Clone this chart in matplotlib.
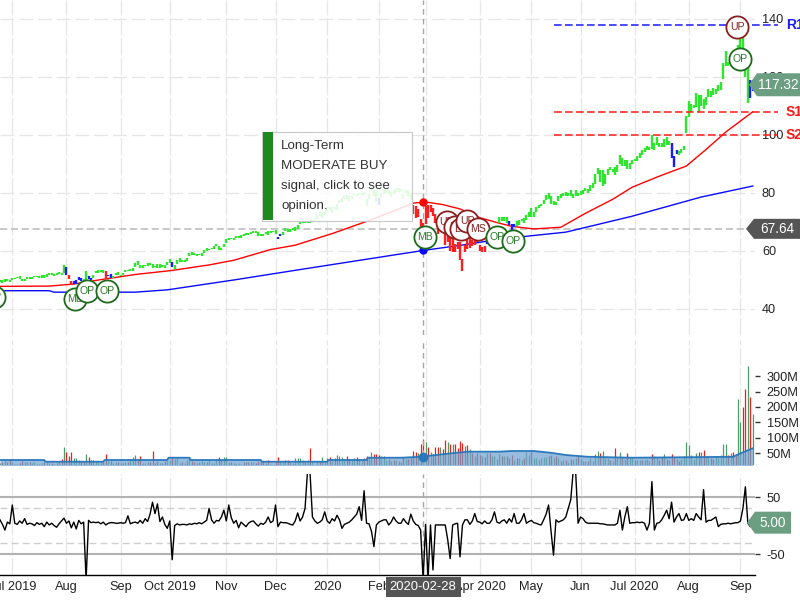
import matplotlib
matplotlib.use("Agg")
import matplotlib.pyplot as plt
import matplotlib.transforms as mtransforms
from matplotlib.patches import Polygon, Rectangle
import numpy as np

plt.rcParams['font.family'] = ['Liberation Sans', 'DejaVu Sans']

# ---------------- data ----------------
month_labels = ["Jul 2019", "Aug", "Sep", "Oct 2019", "Nov", "Dec", "2020", "Feb", "Mar",
                "Apr 2020", "May", "Jun", "Jul 2020", "Aug", "Sep"]
month_start_idx = [5, 27, 49, 69, 92, 112, 133, 154, 173, 195, 216, 236, 258, 280, 301]

close = [
    49.65, 49.32, 49.98, 49.94, 49.48,
    50.39, 50.68, 51.10, 51.06, 50.01, 50.31, 50.81, 50.44, 50.83, 51.30, 51.13, 50.84, 51.42, 50.65, 51.81, 52.21, 52.17, 51.76, 51.94, 52.42, 52.20, 53.26,
    52.11, 51.01, 48.33, 49.25, 49.76, 50.86, 50.25, 50.12, 52.24, 50.69, 50.44, 51.63, 52.59, 52.59, 53.16, 53.12, 50.66, 51.62, 51.04, 51.38, 52.25, 52.19,
    51.42, 52.30, 53.32, 53.31, 53.54, 54.17, 55.90, 55.77, 54.69, 54.97, 55.17, 55.69, 55.24, 54.43, 54.68, 54.42, 55.26, 54.97, 54.71, 55.99,
    56.15, 54.74, 55.21, 56.75, 56.76, 56.10, 56.76, 57.52, 59.05, 58.97, 58.83, 58.59, 58.82, 59.10, 60.13, 59.99, 60.79, 60.90, 61.65, 62.26, 60.82, 60.81, 62.19,
    63.96, 64.38, 64.28, 64.31, 64.86, 65.04, 65.55, 65.49, 66.12, 65.66, 66.44, 66.78, 66.57, 65.80, 65.50, 65.45, 66.59, 66.07, 66.96, 66.81,
    66.04, 64.86, 65.43, 66.39, 67.68, 66.73, 67.12, 67.69, 67.86, 68.79, 69.96, 70.10, 69.93, 70.01, 69.86, 71.00, 71.07, 72.48, 72.45, 72.88, 73.41,
    75.09, 74.36, 74.95, 74.60, 75.80, 77.41, 77.58, 79.24, 78.17, 77.83, 78.81, 79.68, 79.14, 79.43, 79.81, 79.58, 77.24, 79.42, 81.08, 80.97, 77.38,
    77.17, 79.71, 80.36, 81.30, 80.01, 80.39, 79.90, 81.80, 81.22, 81.24, 79.75, 80.90, 80.07, 78.26, 74.54, 72.02, 73.16, 68.38, 68.34,
    74.70, 72.33, 75.68, 73.23, 72.26, 66.54, 71.33, 68.86, 62.06, 69.49, 60.55, 63.22, 61.67, 61.19, 57.31, 56.09, 61.72, 61.38, 64.61, 61.94, 63.70, 63.57,
    60.23, 61.23, 60.35, 65.62, 64.86, 66.52, 67.00, 68.31, 71.76, 71.11, 71.67, 70.70, 69.23, 67.09, 69.03, 68.76, 70.74, 70.79, 69.64, 71.93, 73.45,
    72.27, 73.29, 74.39, 75.16, 75.93, 77.53, 78.75, 77.85, 76.91, 77.39, 76.93, 78.74, 78.29, 79.81, 79.21, 79.72, 79.18, 79.53, 79.56, 79.49,
    80.46, 80.83, 81.28, 80.58, 82.88, 83.36, 85.99, 88.21, 83.97, 84.70, 85.75, 88.02, 87.90, 87.93, 87.43, 89.72, 91.63, 90.01, 91.21, 88.41, 90.45, 91.20,
    91.03, 91.03, 93.46, 93.17, 95.34, 95.75, 95.92, 95.48, 97.06, 97.72, 96.52, 96.33, 98.36, 97.00, 97.27, 92.85, 92.61, 94.81, 93.25, 95.04, 96.19, 106.26,
    108.94, 109.67, 110.06, 113.90, 111.11, 112.73, 109.38, 113.01, 115.01, 114.91, 114.61, 115.56, 115.71, 118.28, 124.37, 125.86, 124.83, 126.52, 125.01, 124.81, 129.04,
    134.18, 131.40, 120.88, 120.96, 112.82, 117.32,
]

high = [
    50.0, 50.0, 50.3, 50.4, 50.0,
    50.6, 50.8, 51.1, 51.3, 50.2, 50.4, 50.9, 50.9, 51.0, 51.5, 51.5, 51.3, 51.6, 51.6, 51.9, 52.3, 52.3, 52.2, 52.4, 52.7, 52.5, 55.3,
    54.5, 51.6, 49.7, 49.6, 49.9, 50.9, 50.7, 50.5, 53.0, 51.5, 50.7, 51.8, 53.0, 53.3, 53.4, 53.6, 53.0, 51.8, 52.1, 51.4, 52.3, 52.6,
    51.7, 52.4, 53.4, 53.6, 53.8, 54.2, 55.9, 56.6, 55.2, 55.0, 55.2, 55.7, 55.9, 55.4, 54.9, 55.6, 55.4, 55.2, 55.2, 56.1,
    57.1, 56.1, 55.2, 56.9, 57.5, 57.0, 56.9, 57.6, 59.4, 59.5, 59.4, 59.0, 59.0, 59.4, 60.2, 61.2, 60.8, 61.0, 61.7, 62.3, 61.7, 61.2, 62.3,
    64.0, 64.5, 64.5, 64.4, 65.1, 65.1, 65.6, 65.8, 66.2, 66.2, 66.5, 66.9, 67.0, 66.5, 66.0, 65.8, 66.6, 66.8, 67.0, 67.0,
    67.3, 64.9, 66.0, 66.5, 67.8, 67.7, 67.5, 67.8, 68.1, 68.8, 70.2, 70.4, 70.5, 70.3, 70.7, 71.1, 71.2, 72.5, 73.5, 73.2, 73.5,
    75.2, 75.1, 75.0, 75.2, 76.1, 77.6, 78.2, 79.3, 79.4, 78.9, 78.9, 80.0, 79.8, 80.0, 79.9, 80.4, 77.9, 79.6, 81.9, 81.0, 80.7,
    78.4, 79.9, 81.2, 81.3, 81.2, 80.4, 80.9, 81.8, 81.8, 81.5, 79.8, 81.2, 81.2, 80.1, 76.0, 75.6, 74.5, 71.0, 69.6,
    75.4, 76.0, 75.8, 74.9, 72.7, 69.5, 71.6, 70.3, 67.5, 69.6, 64.8, 64.4, 62.5, 63.2, 63.0, 57.1, 61.9, 64.6, 64.7, 63.9, 63.9, 65.6,
    62.2, 61.3, 61.6, 65.8, 67.9, 66.8, 67.5, 68.4, 71.8, 71.6, 71.8, 71.7, 70.4, 69.3, 69.3, 70.4, 70.8, 71.1, 71.5, 72.4, 73.6,
    74.7, 73.4, 75.3, 75.8, 76.3, 77.6, 79.3, 79.9, 78.9, 77.4, 77.0, 79.1, 79.6, 79.9, 80.2, 79.9, 81.1, 79.7, 80.9, 80.0,
    80.6, 80.9, 81.6, 81.4, 82.9, 83.4, 86.4, 88.7, 87.8, 87.8, 86.4, 88.3, 88.8, 88.4, 89.1, 89.8, 93.1, 92.2, 91.3, 91.3, 90.5, 91.5,
    91.8, 92.6, 93.9, 94.7, 95.4, 96.3, 96.0, 99.9, 97.3, 99.2, 97.4, 97.1, 98.5, 99.2, 97.9, 97.1, 92.9, 94.9, 94.5, 95.2, 96.3, 106.4,
    111.6, 110.8, 110.4, 114.4, 113.7, 113.8, 112.5, 113.2, 116.0, 115.0, 116.1, 116.0, 117.2, 118.4, 124.9, 128.8, 125.2, 127.0, 127.5, 126.4, 131.0,
    134.8, 138.0, 129.0, 123.7, 119.0, 119.1,
]

low = [
    49.4, 48.9, 49.3, 49.6, 49.3,
    50.0, 50.2, 50.6, 50.4, 49.7, 49.6, 50.4, 50.2, 50.4, 50.9, 50.9, 50.8, 50.6, 50.6, 51.2, 51.8, 51.7, 51.5, 51.8, 52.1, 51.8, 52.3,
    51.6, 50.4, 48.1, 48.5, 48.5, 50.0, 49.7, 49.8, 50.0, 50.3, 50.0, 50.8, 52.3, 52.3, 52.9, 52.5, 50.5, 51.3, 50.7, 50.6, 51.8, 51.8,
    51.3, 51.8, 52.8, 53.1, 53.1, 53.1, 54.4, 55.0, 54.3, 54.3, 54.8, 54.9, 55.1, 54.3, 54.4, 54.2, 54.2, 54.5, 54.3, 55.0,
    55.9, 54.5, 53.8, 55.4, 56.1, 56.1, 56.3, 56.6, 58.1, 58.6, 58.5, 58.4, 58.6, 58.3, 59.3, 59.9, 60.3, 60.6, 60.8, 61.7, 60.3, 60.3, 61.3,
    62.6, 63.8, 64.1, 63.8, 64.5, 64.4, 64.6, 65.2, 65.4, 65.5, 65.9, 66.3, 66.3, 65.1, 65.2, 65.1, 65.8, 65.6, 66.3, 66.5,
    65.8, 64.1, 65.3, 65.6, 66.8, 66.6, 66.5, 67.2, 66.8, 67.5, 69.3, 69.7, 69.8, 69.7, 69.6, 70.1, 70.7, 71.2, 72.0, 71.3, 72.4,
    73.8, 74.1, 73.2, 74.4, 74.3, 76.6, 76.9, 77.8, 78.0, 77.4, 78.1, 79.3, 78.9, 79.3, 78.9, 79.4, 75.6, 77.8, 80.7, 79.1, 77.0,
    75.8, 78.2, 79.5, 80.1, 79.7, 78.5, 79.8, 80.5, 80.5, 80.8, 78.0, 80.0, 79.0, 77.6, 72.6, 71.5, 71.6, 68.3, 64.1,
    69.4, 71.4, 73.3, 72.2, 69.5, 65.7, 67.9, 67.4, 62.0, 63.2, 60.0, 59.6, 59.6, 60.7, 57.0, 53.2, 59.7, 60.7, 61.1, 61.6, 62.0, 63.0,
    60.0, 59.7, 59.7, 62.3, 64.8, 65.1, 66.4, 66.6, 69.7, 70.3, 70.3, 69.6, 69.1, 66.4, 68.1, 68.6, 69.1, 70.4, 69.6, 70.8, 71.6,
    71.6, 71.6, 73.6, 74.7, 75.4, 76.1, 77.6, 77.8, 76.3, 75.8, 75.8, 77.3, 78.2, 79.0, 79.0, 78.8, 79.1, 78.3, 79.1, 79.1,
    79.3, 79.7, 80.6, 80.0, 80.8, 81.8, 83.2, 86.5, 83.9, 82.3, 83.2, 86.2, 87.8, 87.3, 86.2, 87.3, 90.0, 89.4, 89.4, 88.3, 88.3, 90.0,
    90.9, 90.9, 91.9, 93.1, 94.0, 94.7, 94.7, 95.3, 94.7, 96.5, 95.9, 95.8, 95.8, 96.6, 96.6, 92.0, 89.1, 93.5, 93.2, 93.7, 94.7, 100.8,
    106.3, 107.9, 109.2, 109.8, 107.9, 110.0, 109.1, 110.3, 113.0, 113.0, 113.9, 114.2, 115.3, 115.6, 119.3, 123.9, 123.9, 124.6, 123.8, 123.9, 126.0,
    126.0, 126.0, 120.0, 110.9, 112.7, 115.3,
]

# trend colour of each price bar, as runs of (state, number of bars)
trend_runs = [("g", 27), ("b", 1), ("r", 2), ("b", 4), ("g", 2), ("b", 2), ("g", 5), ("r", 1),
              ("b", 2), ("g", 24), ("b", 1), ("g", 42), ("b", 2), ("g", 39), ("b", 1), ("g", 13),
              ("r", 30), ("b", 4), ("g", 5), ("b", 3), ("g", 63), ("b", 3), ("g", 29), ("b", 2)]

volume_m = [
    18, 21, 31, 20, 31,
    22, 15, 14, 18, 25, 20, 21, 20, 18, 20, 16, 16, 19, 21, 22, 19, 18, 16, 22, 25, 30, 70,
    55, 40, 52, 35, 33, 27, 23, 22, 47, 36, 27, 27, 24, 22, 20, 22, 46, 26, 25, 17, 20, 21,
    18, 17, 21, 20, 28, 38, 44, 32, 39, 17, 19, 21, 21, 57, 18, 25, 19, 17, 25, 25,
    28, 34, 30, 33, 19, 21, 19, 27, 36, 24, 21, 19, 20, 26, 20, 20, 30, 18, 18, 29, 37, 29, 38,
    37, 20, 22, 18, 17, 18, 16, 20, 20, 22, 20, 21, 19, 25, 23, 23, 19, 27, 16, 11,
    24, 37, 25, 20, 29, 29, 22, 19, 35, 33, 33, 28, 25, 29, 66, 24, 12, 23, 24, 36, 25,
    34, 37, 30, 33, 43, 41, 36, 31, 41, 32, 27, 35, 37, 30, 28, 34, 41, 36, 53, 48, 48,
    43, 42, 39, 27, 30, 26, 27, 29, 25, 20, 38, 30, 30, 34, 58, 55, 50, 81, 96,
    86, 71, 54, 48, 70, 71, 71, 64, 94, 86, 80, 80, 81, 67, 90, 84, 72, 75, 63, 51, 42, 49,
    44, 41, 36, 50, 50, 42, 40, 32, 48, 40, 40, 42, 33, 45, 29, 34, 33, 29, 34, 53, 45,
    56, 33, 35, 28, 33, 38, 36, 40, 45, 35, 41, 33, 26, 28, 29, 20, 31, 28, 33, 39,
    32, 26, 26, 26, 35, 24, 46, 56, 50, 57, 34, 33, 28, 26, 66, 33, 53, 36, 31, 51, 33, 35,
    27, 29, 29, 28, 29, 31, 23, 46, 41, 38, 27, 38, 46, 32, 27, 48, 34, 30, 26, 30, 39, 86,
    75, 43, 30, 50, 53, 52, 60, 40, 42, 34, 30, 40, 33, 43, 78, 78, 44, 50, 55, 47, 225,
    151, 200, 257, 332, 231, 176,
]

osc = [
    10, 2, -8, 6, 3,
    36, 4, 2, 8, 4, 12, 2, 4, 3, 0, 5, 2, 4, -2, 6, 1, 4, 0, -3, 3, 8, 13,
    4, 8, -4, 6, -6, 9, 3, 6, -95, 9, 5, 6, 5, 6, 3, 6, 1, 4, 5, 5, 4, 4,
    5, 4, 5, 17, 3, 5, 6, 4, 9, 4, 12, 7, 20, 41, 21, 38, 7, 15, 2, -5,
    8, -60, 0, 3, 1, 2, 2, 1, 3, 2, 4, 3, 5, 3, 6, 9, 30, 10, 4, 9, 8, 15, 27,
    8, 36, 14, 4, 9, -4, 6, 2, -2, 4, 7, 8, 3, -1, 4, 2, 6, 15, 5, 8,
    36, -2, 6, 5, 5, 4, 2, 1, 8, 22, 8, 15, 30, 95, 95, 15, 8, 4, 6, 10, 24,
    8, 4, 12, 8, 18, 10, -5, 2, 4, 6, 10, 15, 20, 33, 9, 61, 4, 3, -10, -37, 1,
    6, 8, 10, 10, 1, 6, 15, 8, 4, 4, 12, 6, 2, 20, 8, 2, 0, -8, -95,
    2, -95, 1, -78, 1, 1, 1, 1, 1, -25, -58, 1, 3, 4, -55, 1, 10, 10, 2, 8, 21, 7,
    6, 3, 8, 4, 4, 10, 24, 6, 4, 8, 10, 4, 12, 6, 21, 4, 4, 10, 21, 4, 7,
    9, 5, 4, 2, 1, 10, 20, 36, -10, -52, 10, 6, 8, 10, 15, 30, 45, 95, 95, 4,
    15, 12, 6, 4, 4, 4, 4, 4, 3, 3, 2, 1, 1, 1, 1, 4, 27, -8, 15, 33, 4, 5,
    5, 6, 5, 6, 4, -8, 4, 77, -8, 4, 5, 10, 18, 27, 12, 41, 6, 15, 21, 9, 10, 21,
    9, 12, 9, 21, 15, 10, 63, 6, 9, 9, 12, 15, -2, 2, 3, 3, 4, 3, 4, 5, 5,
    8, 30, 68, 4, -2, 5,
]

red_ma_idx = [0, 20, 30, 40, 55, 70, 85, 95, 110, 120, 135, 150, 160, 168, 173, 180, 187, 195,
              202, 208, 217, 228, 238, 249, 257, 268, 279, 287, 295, 306]
red_ma_val = [47.8, 47.9, 48.6, 50.0, 51.9, 53.3, 55.2, 56.8, 60.5, 62.0, 66.0, 70.5, 73.8, 76.5,
              76.9, 76.0, 74.5, 71.5, 69.8, 68.5, 67.6, 68.2, 73.0, 77.8, 82.0, 85.8, 89.3, 95.0,
              101.0, 108.0]
blue_ma_idx = [2, 20, 22, 55, 68, 95, 122, 163, 173, 190, 203, 230, 257, 285, 306]
blue_ma_val = [46.3, 46.3, 45.8, 45.8, 46.6, 50.0, 53.6, 59.0, 60.3, 62.3, 64.1, 66.5, 72.0, 78.6, 82.4]

vol_ma_idx = [0, 18, 18.5, 42, 42.5, 68, 68.5, 77, 77.5, 106, 106.5, 133, 133.5, 149, 149.5,
              163, 171, 183, 190, 203, 208, 217, 224, 230, 239, 257, 298, 301, 306]
vol_ma_val = [27.6, 27.6, 22, 22, 27.6, 27.6, 35, 35, 27.6, 27.6, 22, 22, 27.6, 27.6, 35,
              35, 38, 49, 54.6, 54.6, 56.8, 56.8, 51, 43.8, 38, 35, 38, 49, 65.5]

signal_idx = [-2.5, 30.5, 35.4, 43.5, 172.8, 181.6, 185.0, 187.4, 190.0, 194.4, 202.0, 208.5, 299.6, 300.8]
signal_price = [44.1, 43.45, 46.2, 46.2, 64.8, 70.1, 68.4, 67.5, 70.4, 67.5, 64.8, 63.45, 137.2, 126.2]
signal_label = ["OP", "MB", "OP", "OP", "MB", "UP", "LP", "LP", "UP", "MS", "OP", "OP", "UP", "OP"]
signal_kind = ["buy", "buy", "buy", "buy", "buy", "sell", "sell", "sell", "sell", "sell",
               "buy", "buy", "sell", "buy"]

level_names = ["R1", "S1", "S2"]
level_values = [137.9, 107.8, 100.0]
level_start_idx = 225

price_ticks = [40, 60, 80, 100, 120, 140]
vol_ticks = [50, 100, 150, 200, 250, 300]
osc_ticks = [-50, 50]
osc_solid_levels = [-50, 50]
osc_dashed_levels = [-30, 30]

last_price = 117.32
last_osc = 5.00
cross_idx = 172
cross_date = "2020-02-28"
cross_price = 67.64
cross_red = 76.9
cross_blue = 60.3
cross_vol = 38

tooltip_lines = ["Long-Term", "MODERATE BUY", "signal, click to see", "opinion."]

# ---------------- styling ----------------
W, H = 800, 600
PX_PER_BAR = 2.46
TREND_COL = {"g": "#2fe62f", "r": "#ff1f1f", "b": "#1a1aff"}
GREEN_TAG = "#6c9f81"
GRID = "#e6e6e6"
LABEL_SIZE = 9.2

fig = plt.figure(figsize=(8, 6), dpi=100)
fig.patch.set_facecolor("white")


def add_ax(top, bottom, right=755):
    return fig.add_axes([0, 1 - bottom / H, right / W, (bottom - top) / H])


ax_p = add_ax(0, 335)
ax_v = add_ax(340, 465)
ax_o = add_ax(474, 575)

n = len(close)
idx = np.arange(n)
xmax = 755 / PX_PER_BAR

for ax in (ax_p, ax_v, ax_o):
    ax.set_xlim(0, xmax)
    for s in ax.spines.values():
        s.set_visible(False)
    ax.set_xticks(month_start_idx)
    ax.tick_params(axis="x", length=0, labelbottom=False)
    ax.grid(axis="x", color=GRID, lw=0.9, ls=(0, (14, 2)))
    ax.set_axisbelow(True)
    ax.patch.set_alpha(0)
    ax.yaxis.tick_right()

# ---- price panel ----
ax_p.set_ylim(31.03, 146.55)
ax_p.set_yticks(price_ticks)
ax_p.set_yticklabels([str(t) for t in price_ticks])
ax_p.tick_params(axis="y", length=0, pad=5, labelsize=LABEL_SIZE, labelcolor="#222222")
ax_p.grid(axis="y", color=GRID, lw=0.9, ls=(0, (11, 4)))

bar_colors = [TREND_COL[c] for c, k in trend_runs for _ in range(k)]
ax_p.axhline(cross_price, color="#c4c4c4", lw=1.3, ls=(0, (4, 2)), zorder=1)
ax_p.axvline(cross_idx, color="#a6a6a6", lw=1.0, ls=(0, (4, 3)), zorder=1)
ax_p.plot(red_ma_idx, red_ma_val, color="#ff0000", lw=1.0, zorder=3)
ax_p.plot(blue_ma_idx, blue_ma_val, color="#0a0aff", lw=1.0, zorder=3)
ax_p.vlines(idx, low, high, colors=bar_colors, lw=1.7, zorder=4)
ax_p.plot([cross_idx], [cross_red], "o", color="#ff0000", ms=5, zorder=5)
ax_p.plot([cross_idx], [cross_blue], "o", color="#0a0aff", ms=5, zorder=5)

for name, val in zip(level_names, level_values):
    col = "#1a1aff" if name.startswith("R") else "#ff1a1a"
    ax_p.plot([level_start_idx, 778 / PX_PER_BAR], [val, val], color=col, lw=1.1,
              ls=(0, (5, 2.2)), clip_on=False, zorder=5)
    ax_p.text(786 / PX_PER_BAR, val, name, color=col, fontsize=10, fontweight="bold",
              ha="left", va="center", clip_on=False, zorder=6)

for i, p, lab, kind in zip(signal_idx, signal_price, signal_label, signal_kind):
    edge = "#1d6a1d" if kind == "buy" else "#8a1f1f"
    tcol = "#2a7a2a" if kind == "buy" else "#8a1f1f"
    ax_p.plot([i], [p], "o", ms=16, mfc="white", mec=edge, mew=1.3, zorder=7)
    ax_p.text(i, p, lab, color=tcol, fontsize=7.6, ha="center", va="center", zorder=7)

# ---- volume panel ----
ax_v.set_ylim(11.4, 417.2)
ax_v.set_yticks(vol_ticks)
ax_v.set_yticklabels([f"{v}M" for v in vol_ticks])
ax_v.tick_params(axis="y", length=3.5, width=1, color="#333333", pad=5, labelsize=LABEL_SIZE,
                 labelcolor="#222222")
vol_colors = ["#4e9c69" if (i == 0 or close[i] >= close[i - 1]) else "#e8211c" for i in range(n)]
ax_v.vlines(idx, 0, volume_m, colors=vol_colors, lw=0.9, zorder=1)
ax_v.fill_between(vol_ma_idx, 0, vol_ma_val, color="#6fa3d0", alpha=0.72, lw=0, zorder=2)
ax_v.plot(vol_ma_idx, vol_ma_val, color="#2a78bd", lw=1.3, zorder=3)
ax_v.axvline(cross_idx, color="#a6a6a6", lw=1.0, ls=(0, (4, 3)), zorder=1)
ax_v.plot([cross_idx], [cross_vol], "o", color="#2a78bd", ms=6, zorder=4)

# ---- oscillator panel ----
ax_o.set_ylim(-86.8, 90.4)
ax_o.set_yticks(osc_ticks)
ax_o.set_yticklabels([str(t) for t in osc_ticks])
ax_o.tick_params(axis="y", length=3.5, width=1, color="#333333", pad=5, labelsize=LABEL_SIZE,
                 labelcolor="#222222")
for lv in osc_solid_levels:
    ax_o.axhline(lv, color="#b3b3b3", lw=1.5, zorder=1)
for lv in osc_dashed_levels:
    ax_o.axhline(lv, color="#cfcfcf", lw=1.0, ls=(0, (5, 3)), zorder=1)
ax_o.axvline(cross_idx, color="#a6a6a6", lw=1.0, ls=(0, (4, 3)), zorder=1)
ax_o.plot(idx, osc, color="black", lw=1.0, zorder=3)
ax_o.spines["bottom"].set_visible(True)
ax_o.spines["bottom"].set_color("black")
ax_o.spines["bottom"].set_linewidth(1.0)
ax_o.set_xticks(month_start_idx)
ax_o.set_xticklabels(month_labels)
ax_o.tick_params(axis="x", length=0, pad=4, labelbottom=True, labelsize=LABEL_SIZE,
                 labelcolor="#222222")

# ---- value tags (figure level, positioned through the axes' data transforms) ----
IDT = mtransforms.IdentityTransform()


def left_tag(ax, value, text, fc, tip_px, right_px, half_h):
    yd = ax.transData.transform((0, value))[1]
    pts = [(tip_px, yd), (tip_px + 8, yd + half_h), (right_px, yd + half_h),
           (right_px, yd - half_h), (tip_px + 8, yd - half_h)]
    fig.add_artist(Polygon(pts, closed=True, transform=IDT, fc=fc, ec="none", zorder=5))
    fig.text((tip_px + 8 + right_px) / 2 / W, yd / H, text, color="white", fontsize=9.8,
             ha="center", va="center", zorder=6)


left_tag(ax_p, last_price, f"{last_price:.2f}", GREEN_TAG, 749, 800, 11.5)
left_tag(ax_p, cross_price, f"{cross_price:.2f}", "#555555", 746, 800, 10)
left_tag(ax_o, last_osc, f"{last_osc:.2f}", GREEN_TAG, 747, 791, 11)

# crosshair date label
xd = ax_o.transData.transform((cross_idx, 0))[0]
fig.text(xd / W, 1 - 587 / H, cross_date, color="white", fontsize=9.4, ha="center", va="center",
         bbox=dict(boxstyle="square,pad=0.32", fc="#555555", ec="none"), zorder=6)

# ---- tooltip box ----
fig.add_artist(Rectangle((262 / W, 1 - 221 / H), 150 / W, 89 / H, transform=fig.transFigure,
                         fc="white", alpha=0.86, ec="none", zorder=4))
fig.add_artist(Rectangle((262 / W, 1 - 221 / H), 150 / W, 89 / H, transform=fig.transFigure,
                         fill=False, ec="#c8c8c8", lw=0.8, zorder=4))
fig.add_artist(Rectangle((262.5 / W, 1 - 220.5 / H), 10.5 / W, 88 / H, transform=fig.transFigure,
                         fc="#1e8a1e", ec="none", zorder=5))
for k, line in enumerate(tooltip_lines):
    fig.text(281 / W, 1 - (146 + 20 * k) / H, line, fontsize=9.6, color="#333333",
             ha="left", va="center", zorder=6)

fig.savefig("out.png", dpi=100, facecolor="white")
